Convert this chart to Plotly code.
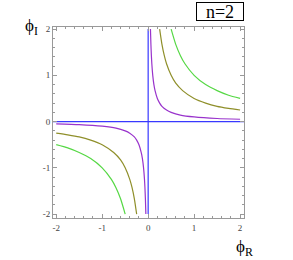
import plotly.graph_objects as go

# curve samples (right and left branches)
purple_x_r = [0.05, 0.06, 0.07, 0.08, 0.1, 0.125, 0.15, 0.2, 0.25, 0.3, 0.4, 0.5, 0.7, 1.0, 1.5, 2.0]
purple_y_r = [2.0, 1.67, 1.43, 1.25, 1.0, 0.8, 0.67, 0.5, 0.4, 0.33, 0.25, 0.2, 0.14, 0.1, 0.067, 0.05]
purple_x_l = [-2.0, -1.5, -1.0, -0.7, -0.5, -0.4, -0.3, -0.25, -0.2, -0.15, -0.125, -0.1, -0.08, -0.07, -0.06, -0.05]
purple_y_l = [-0.05, -0.067, -0.1, -0.14, -0.2, -0.25, -0.33, -0.4, -0.5, -0.67, -0.8, -1.0, -1.25, -1.43, -1.67, -2.0]

olive_x_r = [0.25, 0.3, 0.35, 0.4, 0.5, 0.6, 0.75, 1.0, 1.25, 1.5, 1.75, 2.0]
olive_y_r = [2.0, 1.67, 1.43, 1.25, 1.0, 0.83, 0.67, 0.5, 0.4, 0.33, 0.286, 0.25]
olive_x_l = [-2.0, -1.75, -1.5, -1.25, -1.0, -0.75, -0.6, -0.5, -0.4, -0.35, -0.3, -0.25]
olive_y_l = [-0.25, -0.286, -0.33, -0.4, -0.5, -0.67, -0.83, -1.0, -1.25, -1.43, -1.67, -2.0]

green_x_r = [0.5, 0.6, 0.7, 0.8, 1.0, 1.25, 1.5, 1.75, 2.0]
green_y_r = [2.0, 1.67, 1.43, 1.25, 1.0, 0.8, 0.67, 0.57, 0.5]
green_x_l = [-2.0, -1.75, -1.5, -1.25, -1.0, -0.8, -0.7, -0.6, -0.5]
green_y_l = [-0.5, -0.57, -0.67, -0.8, -1.0, -1.25, -1.43, -1.67, -2.0]

axis_h_x = [-2.1, 2.1]
axis_h_y = [0, 0]
axis_v_x = [0, 0]
axis_v_y = [-2.0, 2.0]

tick_vals = [-2, -1, 0, 1, 2]
tick_text = ["-2", "-1", "0", "1", "2"]

PURPLE = "#9933cc"
OLIVE = "#8f8f2a"
GREEN = "#55d844"
BLUE = "#3838ff"

fig = go.Figure()
fig.add_trace(go.Scatter(x=axis_h_x, y=axis_h_y, mode="lines", line=dict(color=BLUE, width=1.2)))
fig.add_trace(go.Scatter(x=axis_v_x, y=axis_v_y, mode="lines", line=dict(color=BLUE, width=1.2)))
for xs, ys, c in [
    (purple_x_r, purple_y_r, PURPLE), (purple_x_l, purple_y_l, PURPLE),
    (olive_x_r, olive_y_r, OLIVE), (olive_x_l, olive_y_l, OLIVE),
    (green_x_r, green_y_r, GREEN), (green_x_l, green_y_l, GREEN),
]:
    fig.add_trace(go.Scatter(x=xs, y=ys, mode="lines", line=dict(color=c, width=1.2, shape="spline", smoothing=0.6)))

axis_common = dict(
    showgrid=False, zeroline=False, showline=True, linecolor="#999999", linewidth=1,
    mirror="allticks", ticks="inside", ticklen=4, tickcolor="#999999", tickwidth=1,
    tickmode="array", tickvals=tick_vals, ticktext=tick_text,
    tickfont=dict(family="Liberation Serif", size=9, color="#444444"),
    minor=dict(dtick=0.2, ticks="inside", ticklen=2, tickcolor="#999999", tickwidth=1),
)

fig.update_layout(
    width=293, height=260,
    margin=dict(l=53, r=49, t=27, b=42),
    paper_bgcolor="white", plot_bgcolor="white",
    showlegend=False,
    xaxis=dict(range=[-2.07, 2.085], ticklabelstandoff=1, **axis_common),
    yaxis=dict(range=[-2.085, 2.045], **axis_common),
    annotations=[
        dict(text="n=2", xref="paper", yref="paper", x=1.0, y=1.03, xanchor="right", yanchor="bottom",
             showarrow=False, font=dict(family="Liberation Serif", size=18, color="black"),
             bordercolor="black", borderwidth=1, borderpad=0, bgcolor="white", width=46, height=17),
        dict(text="ϕ<sub>I</sub>", xref="paper", yref="paper", x=-0.07, y=1.0, xanchor="right", yanchor="middle",
             showarrow=False, font=dict(family="Liberation Serif", size=17, color="black")),
        dict(text="ϕ<sub>R</sub>", xref="paper", yref="paper", x=1.0, y=-0.09, xanchor="center", yanchor="top",
             showarrow=False, font=dict(family="Liberation Serif", size=17, color="black")),
    ],
)

fig.write_html("out.html", config={"displayModeBar": False},
               post_script="document.body.style.margin='0';")
